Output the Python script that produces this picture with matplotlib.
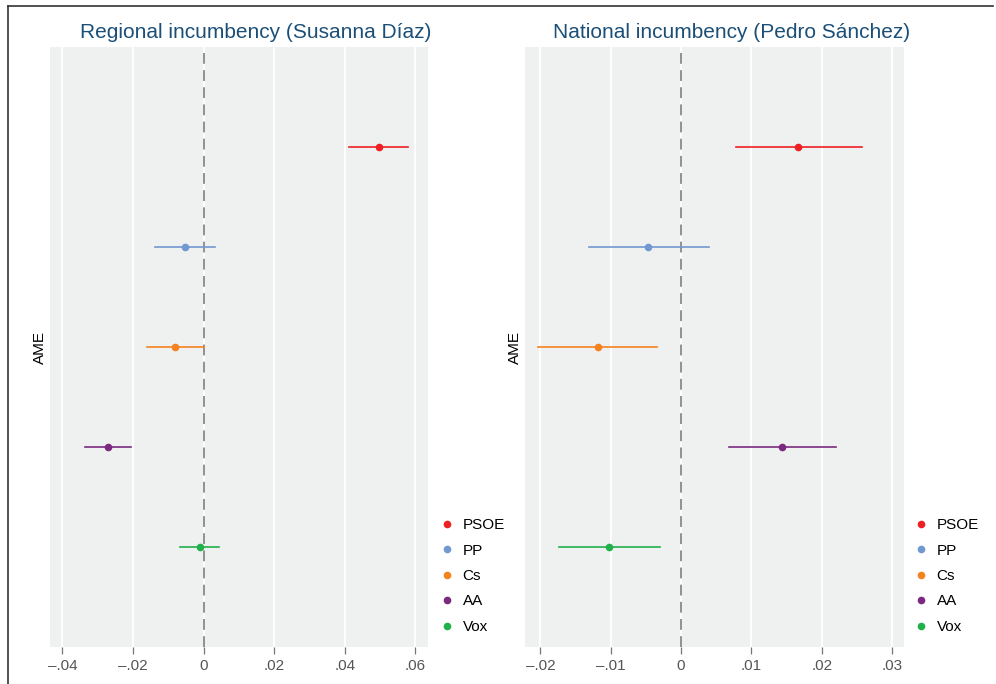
import matplotlib
matplotlib.use("Agg")
import matplotlib.pyplot as plt
from matplotlib.lines import Line2D

parties = ["PSOE", "PP", "Cs", "AA", "Vox"]
colors = ["#ee2024", "#7298d0", "#f58220", "#7a2a7f", "#22b04b"]

reg_est = [0.0497, -0.0052, -0.0081, -0.0271, -0.0010]
reg_lo = [0.0412, -0.0137, -0.0160, -0.0336, -0.0067]
reg_hi = [0.0579, 0.0033, 0.0000, -0.0205, 0.0044]
reg_ticks = [-0.04, -0.02, 0.0, 0.02, 0.04, 0.06]
reg_labels = ["\u2013.04", "\u2013.02", "0", ".02", ".04", ".06"]

nat_est = [0.0166, -0.0047, -0.0118, 0.0144, -0.0102]
nat_lo = [0.0078, -0.0131, -0.0203, 0.0068, -0.0173]
nat_hi = [0.0257, 0.0040, -0.0034, 0.0220, -0.0030]
nat_ticks = [-0.02, -0.01, 0.0, 0.01, 0.02, 0.03]
nat_labels = ["\u2013.02", "\u2013.01", "0", ".01", ".02", ".03"]

titles = ["Regional incumbency (Susanna D\u00edaz)", "National incumbency (Pedro S\u00e1nchez)"]

plt.rcParams['font.family'] = ['Liberation Sans', 'DejaVu Sans']

W, H = 996, 684
fig = plt.figure(figsize=(W / 100, H / 100), dpi=100)

def rect(x0, y0, x1, y1):
    return [x0 / W, 1 - y1 / H, (x1 - x0) / W, (y1 - y0) / H]

panels = [
    dict(box=(50, 47, 428, 647), xlim=(-0.0435, 0.0636), est=reg_est, lo=reg_lo, hi=reg_hi,
         ticks=reg_ticks, labels=reg_labels, title=titles[0], tx=256, ylx=40, legx=447),
    dict(box=(525, 47, 904, 647), xlim=(-0.02218, 0.0317), est=nat_est, lo=nat_lo, hi=nat_hi,
         ticks=nat_ticks, labels=nat_labels, title=titles[1], tx=732, ylx=515, legx=921),
]

for p in panels:
    ax = fig.add_axes(rect(*p["box"]))
    ax.set_facecolor("#eff1f0")
    for s in ax.spines.values():
        s.set_visible(False)
    ax.set_xlim(*p["xlim"])
    ax.set_ylim(6, 0)
    ax.set_xticks(p["ticks"])
    ax.set_xticklabels(p["labels"])
    ax.tick_params(axis="x", length=5, width=0.9, color="#777777", labelcolor="#555555",
                   labelsize=11, pad=4, direction="out")
    ax.set_yticks([])
    ax.grid(axis="x", color="white", linewidth=1.3)
    ax.set_axisbelow(True)
    ax.axvline(0, color="#888888", linewidth=1.3, dashes=(6, 3.5), zorder=1.5)
    for i, (e, l, h, c) in enumerate(zip(p["est"], p["lo"], p["hi"], colors)):
        y = i + 1
        ax.plot([l, h], [y, y], color=c, linewidth=1.2, zorder=3)
        ax.plot([e], [y], "o", color=c, markersize=5.5, markeredgewidth=0, zorder=4)
    fig.text(p["ylx"] / W, 1 - 347 / H, "AME", rotation=90, ha="center", va="center",
             fontsize=11, color="black")
    fig.text(p["tx"] / W, 1 - 32.5 / H, p["title"], ha="center", va="center",
             fontsize=15, color="#1b4f78")
    handles = [Line2D([], [], marker="o", linestyle="none", color=c, markersize=5.5,
                      markeredgewidth=0) for c in colors]
    leg = fig.legend(handles, parties, loc="upper left",
                     bbox_to_anchor=((p["legx"] - 18) / W, 1 - 512 / H),
                     frameon=False, fontsize=11, handletextpad=0.3, labelspacing=0.75,
                     handlelength=1.5, borderaxespad=0)

# outer frame lines (top and left)
fig.add_artist(Line2D([7.5 / W, 993 / W], [1 - 5.5 / H, 1 - 5.5 / H], color="#333333", linewidth=1.2))
fig.add_artist(Line2D([7.5 / W, 7.5 / W], [0, 1 - 5.5 / H], color="#333333", linewidth=1.2))

fig.savefig("out.png", dpi=100, facecolor="white")
